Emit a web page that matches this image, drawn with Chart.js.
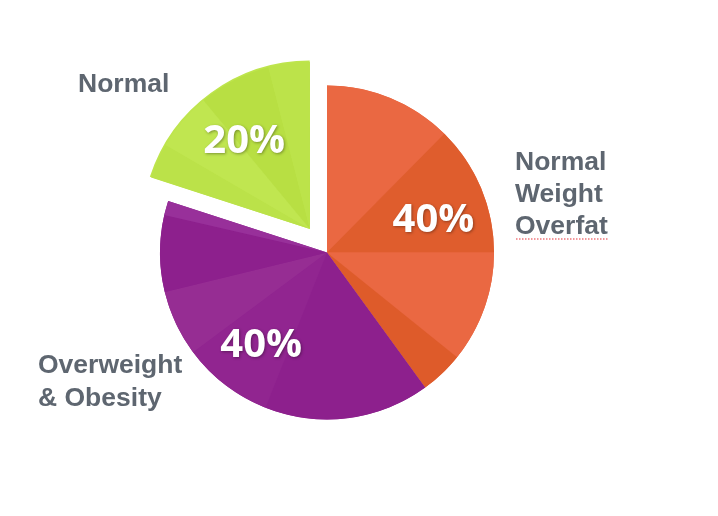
<!DOCTYPE html>
<html>
<head>
<meta charset="utf-8">
<script src="https://cdn.jsdelivr.net/npm/chart.js@4"></script>
<style>
  html, body { margin: 0; padding: 0; background: #ffffff; }
  #wrap { position: relative; width: 718px; height: 516px; }
</style>
</head>
<body>
<div id="wrap"><canvas id="c"></canvas></div>
<script>
// ---- data ----
const categories = ["Normal Weight Overfat", "Overweight & Obesity", "Normal"];
const labelLines = [["Normal", "Weight", "Overfat"], ["Overweight", "& Obesity"], ["Normal"]];
const values = [40, 40, 20];
const percentLabels = ["40%", "40%", "20%"];

// ---- style ----
const baseColors = ["#E9673F", "#8E2190", "#BEE54D"];
// Chart.js v4 arcs translate by offset/4 when drawn
const offsets = [0, 0, 116];
// facet shading inside each slice: [fromFraction, toFraction, color]
const facets = [
  [[0.0, 0.31, "#EA6842"], [0.31, 0.625, "#DF5D2D"], [0.625, 0.895, "#EA6842"], [0.895, 1.0, "#DE5B2A"]],
  [[0.0, 0.40, "#8D208D"], [0.40, 0.62, "#912590"], [0.62, 0.78, "#962D93"], [0.78, 0.965, "#8D208D"], [0.965, 1.0, "#98309A"]],
  [[0.0, 0.17, "#BBE249"], [0.17, 0.45, "#C0E650"], [0.45, 0.8, "#B8DF43"], [0.8, 1.0, "#BCE34A"]]
];
const textGray = "#5E6670";

const facetPlugin = {
  id: "facets",
  afterDatasetDraw(chart, args) {
    const meta = chart.getDatasetMeta(args.index);
    const ctx = chart.ctx;
    meta.data.forEach((arc, i) => {
      const p = arc.getProps(["x", "y", "startAngle", "endAngle", "outerRadius"], true);
      const off = (arc.options.offset || 0) / 4;
      const mid = (p.startAngle + p.endAngle) / 2;
      const cx = p.x + Math.cos(mid) * off;
      const cy = p.y + Math.sin(mid) * off;
      const span = p.endAngle - p.startAngle;
      ctx.save();
      (facets[i] || []).forEach(f => {
        const a0 = p.startAngle + span * f[0];
        const a1 = p.startAngle + span * f[1];
        ctx.beginPath();
        ctx.moveTo(cx, cy);
        ctx.arc(cx, cy, p.outerRadius, a0, a1);
        ctx.closePath();
        ctx.fillStyle = f[2];
        ctx.fill();
      });
      // percentage label
      const r = p.outerRadius * 0.67;
      const tx = cx + Math.cos(mid) * r;
      const ty = cy + Math.sin(mid) * r;
      ctx.font = "bold 40px 'Open Sans'";
      ctx.textAlign = "center";
      ctx.textBaseline = "middle";
      ctx.shadowColor = "rgba(0,0,0,0.35)";
      ctx.shadowBlur = 3;
      ctx.shadowOffsetX = 1;
      ctx.shadowOffsetY = 1;
      ctx.fillStyle = "#ffffff";
      ctx.fillText(percentLabels[i], tx, ty + 3);
      ctx.restore();
    });
  },
  afterDraw(chart) {
    const ctx = chart.ctx;
    ctx.save();
    ctx.font = "bold 26.5px 'Liberation Sans'";
    ctx.fillStyle = textGray;
    ctx.textAlign = "left";
    ctx.textBaseline = "alphabetic";
    // Normal Weight Overfat (right)
    const right = labelLines[0];
    const rx = 515, ry = 170, lh = 32;
    right.forEach((t, k) => ctx.fillText(t, rx, ry + k * lh));
    // red dotted spell-check underline under last line
    const w = ctx.measureText(right[right.length - 1]).width;
    ctx.strokeStyle = "#e8333a";
    ctx.lineWidth = 1.2;
    ctx.setLineDash([1.5, 1.5]);
    ctx.beginPath();
    ctx.moveTo(rx + 1, ry + 2 * lh + 5);
    ctx.lineTo(rx + w, ry + 2 * lh + 5);
    ctx.stroke();
    ctx.setLineDash([]);
    // Overweight & Obesity (left)
    labelLines[1].forEach((t, k) => ctx.fillText(t, 38, 373 + k * 33));
    // Normal (top-left)
    labelLines[2].forEach((t, k) => ctx.fillText(t, 78, 92 + k * 32));
    ctx.restore();
  }
};

new Chart(document.getElementById("c"), {
  type: "pie",
  data: {
    labels: categories,
    datasets: [{
      data: values,
      backgroundColor: baseColors,
      borderWidth: 0,
      offset: offsets,
      hoverOffset: 0
    }]
  },
  options: {
    responsive: true,
    maintainAspectRatio: false,
    animation: false,
    radius: 167,
    layout: { padding: { left: 0, right: 64, top: 1, bottom: 12 } },
    plugins: { legend: { display: false }, tooltip: { enabled: false } },
    events: []
  },
  plugins: [facetPlugin]
});
</script>
</body>
</html>
